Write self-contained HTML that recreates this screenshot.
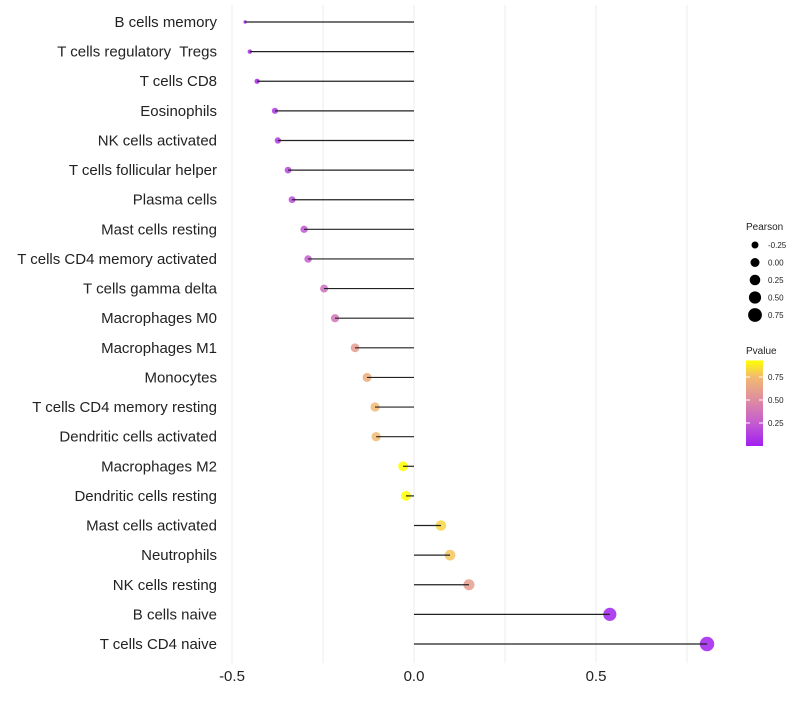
<!DOCTYPE html>
<html><head><meta charset="utf-8"><style>
body{margin:0;background:#fff;font-family:"Liberation Sans",sans-serif;}
svg text{font-family:"Liberation Sans",sans-serif;white-space:pre;}
</style></head><body>
<svg id="chart" width="800" height="700"></svg>
<script>
const categories=["B cells memory","T cells regulatory  Tregs","T cells CD8","Eosinophils","NK cells activated","T cells follicular helper","Plasma cells","Mast cells resting","T cells CD4 memory activated","T cells gamma delta","Macrophages M0","Macrophages M1","Monocytes","T cells CD4 memory resting","Dendritic cells activated","Macrophages M2","Dendritic cells resting","Mast cells activated","Neutrophils","NK cells resting","B cells naive","T cells CD4 naive"];
const pearson=[-0.464,-0.451,-0.431,-0.382,-0.374,-0.346,-0.335,-0.302,-0.291,-0.247,-0.217,-0.162,-0.129,-0.107,-0.104,-0.030,-0.022,0.074,0.099,0.151,0.538,0.805];
const pvalue=[0.03,0.05,0.03,0.10,0.10,0.15,0.18,0.22,0.25,0.35,0.38,0.58,0.68,0.74,0.74,0.93,0.93,0.82,0.78,0.6,0.01,0.001];
const xTicks=[-0.5,0,0.5];
const xTickLabels=["-0.5","0.0","0.5"];
const xGrid=[-0.5,-0.25,0,0.25,0.5,0.75];
const sizeLegend=[-0.25,0,0.25,0.5,0.75];
const sizeLegendLabels=["-0.25","0.00","0.25","0.50","0.75"];
const pLegend=[0.25,0.5,0.75];
const pLegendLabels=["0.25","0.50","0.75"];

const NS="http://www.w3.org/2000/svg";
const svg=document.getElementById('chart');
function mk(t,a,p){const e=document.createElementNS(NS,t);for(const k in a)e.setAttribute(k,a[k]);(p||svg).appendChild(e);return e;}
const x=v=>414+v*364;
const y=i=>22+i*(644-22)/(categories.length-1);
const vmin=Math.min(...pearson),vmax=Math.max(...pearson);
const r=v=>1.7+5.5*Math.sqrt(Math.max(0,(v-vmin)/(vmax-vmin)));
const stops=[[0,[160,32,240]],[0.25,[196,92,208]],[0.5,[222,140,160]],[0.75,[242,186,112]],[0.93,[255,255,0]]];
function col(p){if(p<=stops[0][0])return `rgb(${stops[0][1]})`;for(let i=1;i<stops.length;i++){if(p<=stops[i][0]){const a=stops[i-1],b=stops[i],t=(p-a[0])/(b[0]-a[0]);return `rgb(${a[1].map((c,j)=>Math.round(c+(b[1][j]-c)*t))})`;}}return `rgb(${stops[stops.length-1][1]})`;}

xGrid.forEach(v=>{const g=mk('line',{x1:x(v),x2:x(v),y1:5,y2:663,stroke:'#ececec','stroke-width':1});

});
xTicks.forEach((v,i)=>{const t=mk('text',{x:x(v),y:681,'text-anchor':'middle','font-size':15,fill:'#222'});t.textContent=xTickLabels[i];

});
categories.forEach((c,i)=>{
const t=mk('text',{x:217,y:y(i)+5,'text-anchor':'end','font-size':15,fill:'#222'});t.textContent=c;


const d=mk('circle',{cx:x(pearson[i]),cy:y(i),r:r(pearson[i]),fill:col(pvalue[i]),'fill-opacity':0.85});


const l=mk('line',{x1:x(0),x2:x(pearson[i]),y1:y(i),y2:y(i),stroke:'#222','stroke-width':1.2});


});
let t=mk('text',{x:746,y:230,'font-size':10,fill:'#222'});t.textContent='Pearson';


const rl=[3.5,4.5,5.3,6.1,6.9];
sizeLegend.forEach((v,i)=>{const yy=245+i*17.5;
const c=mk('circle',{cx:755,cy:yy,r:rl[i],fill:'#000'});


const tt=mk('text',{x:768,y:yy+3,'font-size':8,fill:'#222'});tt.textContent=sizeLegendLabels[i];

});
t=mk('text',{x:746,y:354,'font-size':10,fill:'#222'});t.textContent='Pvalue';


const defs=mk('defs',{});const lg=mk('linearGradient',{id:'pg',x1:0,y1:1,x2:0,y2:0},defs);
stops.forEach(s=>mk('stop',{offset:(s[0]/0.93),'stop-color':`rgb(${s[1]})`},lg));
const py=v=>446-v*92;
const bar=mk('rect',{x:746,y:py(0.93),width:17,height:0.93*92,fill:'url(#pg)'});


pLegend.forEach((v,i)=>{mk('line',{x1:746,x2:750,y1:py(v),y2:py(v),stroke:'#fff'});mk('line',{x1:759,x2:763,y1:py(v),y2:py(v),stroke:'#fff'});
const tt=mk('text',{x:768,y:py(v)+3,'font-size':8,fill:'#222'});tt.textContent=pLegendLabels[i];

});
</script>
</body></html>
